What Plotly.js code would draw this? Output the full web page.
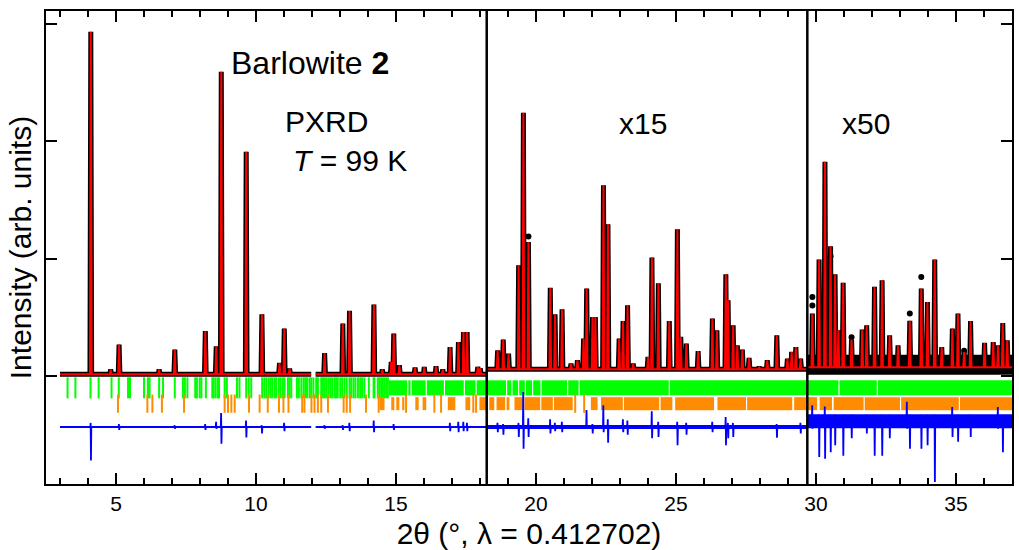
<!DOCTYPE html>
<html>
<head>
<meta charset="utf-8">
<script src="https://cdn.plot.ly/plotly-3.0.1.min.js"></script>
<style>html,body{margin:0;padding:0;background:#fff;}#chart{width:1019px;height:550px;}</style>
</head>
<body>
<div id="chart"></div>
<script>
// ---- data ----
// data segments (region 1 has a small break in the pattern near 12°)
const segStart = [3.0, 12.13, 18.24, 29.69];
const segEnd   = [11.97, 18.24, 29.69, 37.0];
const segCalcBase = [0.015, 0.015, 0.058, 0.075];
const segDiffBase = [-0.435, -0.435, -0.435, -0.387];
const scaleLabels = ["x15", "x50"];
const scaleBreaks = [18.24, 29.69];

// peak positions (2θ) and displayed calculated heights
const peakX = [4.10,4.81,5.11,6.54,7.10,8.19,8.58,8.76,9.65,10.21,10.84,11.01,11.20,12.45,13.10,13.34,14.21,14.51,14.83,14.92,15.12,15.68,16.01,16.43,16.67,16.93,17.23,17.41,17.54,17.92,18.01,
  18.63,18.83,19.02,19.38,19.55,19.73,20.51,20.68,20.93,21.25,21.48,21.70,21.81,22.02,22.12,22.41,22.57,22.97,23.11,23.27,23.47,24.00,24.14,24.37,24.76,25.05,25.17,25.37,25.79,26.30,26.46,26.78,26.86,27.04,27.19,27.37,27.61,27.97,28.26,28.60,28.98,29.13,29.28,29.45,
  29.87,30.11,30.32,30.52,30.68,30.80,30.97,31.27,31.65,31.81,32.09,32.36,32.63,32.93,33.35,33.76,33.98,34.24,34.49,34.87,35.07,35.29,35.52,36.02,36.33,36.50,36.67,36.83];
const calcY = [2.935,0.057,0.268,0.057,0.225,0.384,0.253,2.594,1.911,0.526,0.111,0.404,0.063,0.196,0.447,0.555,0.609,0.055,0.119,0.362,0.091,0.072,0.077,0.083,0.057,0.247,0.29,0.375,0.375,0.077,0.066,
  0.219,0.31,0.19,0.945,2.244,1.143,0.751,0.526,0.569,0.106,0.134,0.319,0.746,0.503,0.503,1.627,1.294,0.319,0.469,0.603,0.106,0.162,1.01,0.79,0.469,1.252,0.333,0.276,0.213,0.49,0.39,0.868,0.646,0.433,0.262,0.225,0.154,0.077,0.134,0.347,0.148,0.205,0.247,0.148,
  0.532,0.993,1.826,1.107,0.868,0.39,0.794,0.31,0.396,0.433,0.76,0.817,0.347,0.262,0.47,0.746,0.631,0.993,0.247,0.404,0.532,0.205,0.469,0.282,0.29,0.262,0.452,0.305];
// observed points that stand away from the fit
const obsDotX = [19.73, 29.87, 29.87, 33.35, 33.76, 35.29, 31.27, 30.52];
const obsDotY = [1.19, 0.674, 0.60, 0.532, 0.845, 0.215, 0.33, 1.02];

// difference curve spikes: position, top, bottom
const diffX  = [4.10,5.11,7.10,8.19,8.58,8.76,9.65,10.21,11.01,12.45,13.10,13.34,14.21,14.92,16.93,17.23,17.41,17.54,
  18.63,18.83,19.38,19.55,19.73,20.51,20.68,20.93,21.81,22.02,22.41,22.57,23.11,23.27,24.14,24.37,25.05,25.37,26.30,26.78,26.86,27.04,28.60,29.45,
  29.87,30.11,30.32,30.52,30.68,30.97,31.27,31.81,32.09,32.36,32.63,33.25,33.35,33.76,33.98,34.24,34.87,35.07,35.52,36.50,36.67];
const diffHi = [-0.40,-0.41,-0.42,-0.41,-0.39,-0.315,-0.38,-0.42,-0.40,-0.42,-0.42,-0.40,-0.38,-0.41,-0.40,-0.39,-0.39,-0.40,
  -0.40,-0.41,-0.40,-0.136,-0.36,-0.37,-0.40,-0.39,-0.29,-0.41,-0.25,-0.37,-0.37,-0.38,-0.30,-0.39,-0.39,-0.40,-0.39,-0.35,-0.40,-0.40,-0.41,-0.40,
  -0.25,-0.33,-0.26,-0.33,-0.33,-0.33,-0.33,-0.33,-0.33,-0.33,-0.33,-0.22,-0.33,-0.33,-0.33,-0.33,-0.265,-0.33,-0.33,-0.265,-0.33];
const diffLo = [-0.72,-0.46,-0.45,-0.46,-0.45,-0.577,-0.525,-0.49,-0.47,-0.45,-0.46,-0.47,-0.48,-0.46,-0.47,-0.48,-0.47,-0.47,
  -0.48,-0.50,-0.52,-0.62,-0.52,-0.49,-0.47,-0.48,-0.45,-0.49,-0.48,-0.57,-0.48,-0.50,-0.53,-0.52,-0.59,-0.50,-0.48,-0.59,-0.53,-0.52,-0.526,-0.49,
  -0.45,-0.69,-0.705,-0.65,-0.59,-0.68,-0.53,-0.49,-0.68,-0.68,-0.53,-0.45,-0.62,-0.62,-0.59,-0.905,-0.52,-0.56,-0.52,-0.45,-0.65];

// reflection markers: phase 1 (green) and phase 2 (orange)
const greenTicks = [3.27,3.55,4.09,4.38,4.84,5.10,5.43,5.50,6.00,6.14,6.20,6.54,6.68,7.10,7.39,7.46,7.55,7.83,7.89,7.99,8.05,8.21,8.44,8.49,8.56,8.64,8.68,8.88,8.96,9.32,9.41,9.65,9.74,9.83,10.22,10.30,10.37,10.45,10.52,10.58,10.66,10.72,10.81,10.88,10.96,11.02,11.14,11.20,11.26,11.46,11.53,11.62,11.70,11.76,11.82,11.91,11.97,12.05,12.15,12.21,12.33,12.39,12.45,12.51,12.58,12.65,12.72,12.80,12.86,12.92,13.01,13.08,13.16,13.24,13.34,13.40,13.48,13.55,13.64,13.72,13.79,13.87,14.03,14.20,14.23,14.35,14.41,14.47,14.53,14.59,14.65,14.71];
const greenBandStart = [14.75,15.44,15.56,16.10,16.75,17.46,17.88,18.97,19.16,19.40,19.64,19.90,20.20,21.15,21.56,24.78,30.84,32.21];
const greenBandEnd   = [15.40,15.52,16.06,16.71,17.42,17.84,18.93,19.12,19.36,19.60,19.86,20.16,21.11,21.52,24.74,30.80,32.17,37.0];
const orangeTicks = [5.07,6.12,6.30,6.64,7.43,8.88,9.00,9.12,9.24,9.75,10.13,10.42,10.82,10.98,11.16,11.65,11.73,11.98,12.09,12.21,12.33,12.57,13.13,13.24,13.36,13.93,14.38,15.36,16.37,16.61,17.76,17.86,21.40,21.72];
const orangeBandStart = [14.41,14.83,15.01,15.22,15.69,15.95,16.85,17.48,17.98,18.33,18.59,18.95,19.23,19.59,20.19,20.64,21.96,22.32,23.14,24.45,24.97,26.48,27.54,29.22,30.13,30.63,31.74,33.04,35.14];
const orangeBandEnd   = [14.59,14.94,15.12,15.30,15.81,16.08,17.12,17.65,18.22,18.51,18.90,19.05,19.55,20.15,20.60,21.31,22.20,23.10,24.40,24.87,26.36,27.50,29.15,30.04,30.57,31.70,33.00,35.10,37.0];

const xTicks = [5,10,15,20,25,30,35];
const yTicks = [0,1,2,3];

// ---- build traces ----
const PEAK_HW = 0.03, DIFF_HW = 0.018;
const GREEN_Y = -0.101, ORANGE_Y = -0.236;

function profile() {
  const X = [], Y = [];
  for (let s = 0; s < segStart.length; s++) {
    const a = segStart[s], b = segEnd[s], base = segCalcBase[s];
    X.push(a); Y.push(base);
    let last = a;
    const idx = peakX.map((v, i) => i).filter(i => peakX[i] > a && peakX[i] < b);
    idx.forEach((i, k) => {
      const x = peakX[i];
      if (x - PEAK_HW > last) { X.push(x - PEAK_HW); Y.push(base); }
      X.push(x); Y.push(calcY[i]); last = x;
      const nxt = k + 1 < idx.length ? peakX[idx[k + 1]] : b;
      if (nxt - PEAK_HW > x + PEAK_HW) { X.push(x + PEAK_HW); Y.push(base); last = x + PEAK_HW; }
    });
    X.push(b); Y.push(base);
    X.push(null); Y.push(null);
  }
  return [X, Y];
}
function diffCurve() {
  const X = [], Y = [];
  for (let s = 0; s < segStart.length; s++) {
    const a = segStart[s], b = segEnd[s], base = segDiffBase[s];
    X.push(a); Y.push(base);
    diffX.forEach((x, i) => {
      if (x <= a || x >= b) return;
      X.push(x - DIFF_HW, x - DIFF_HW / 3, x + DIFF_HW / 3, x + DIFF_HW);
      Y.push(base, diffHi[i], diffLo[i], base);
    });
    X.push(b); Y.push(base);
    X.push(null); Y.push(null);
  }
  return [X, Y];
}
function bands(starts, ends, y) {
  const X = [], Y = [];
  starts.forEach((s, i) => { X.push(s, ends[i], null); Y.push(y, y, null); });
  return [X, Y];
}

const [px, py] = profile();
const [dx, dy] = diffCurve();
const [gbx, gby] = bands(greenBandStart, greenBandEnd, GREEN_Y);
const [obx, oby] = bands(orangeBandStart, orangeBandEnd, ORANGE_Y);
const lastSeg = segStart.length - 1;

const GREEN = "#00ff00", ORANGE = "#ff8c00", BLUE = "#0000ff", RED = "#ff0000";

const traces = [
  {x: greenTicks, y: greenTicks.map(() => GREEN_Y), mode: "markers", type: "scatter",
   marker: {symbol: "line-ns-open", size: 15, color: GREEN, line: {color: GREEN, width: 2}}, hoverinfo: "skip"},
  {x: gbx, y: gby, mode: "lines", type: "scatter", line: {color: GREEN, width: 15}, hoverinfo: "skip"},
  {x: orangeTicks, y: orangeTicks.map(() => ORANGE_Y), mode: "markers", type: "scatter",
   marker: {symbol: "line-ns-open", size: 13, color: ORANGE, line: {color: ORANGE, width: 2}}, hoverinfo: "skip"},
  {x: obx, y: oby, mode: "lines", type: "scatter", line: {color: ORANGE, width: 13}, hoverinfo: "skip"},
  // difference
  {x: [segStart[2], segEnd[2]], y: [segDiffBase[2], segDiffBase[2]], mode: "lines", type: "scatter", line: {color: BLUE, width: 4}, hoverinfo: "skip"},
  {x: [segStart[lastSeg], segEnd[lastSeg]], y: [segDiffBase[lastSeg], segDiffBase[lastSeg]], mode: "lines", type: "scatter", line: {color: BLUE, width: 14}, hoverinfo: "skip"},
  {x: dx, y: dy, mode: "lines", type: "scatter", line: {color: BLUE, width: 1.8}, hoverinfo: "skip"},
  // observed
  {x: [segStart[lastSeg], segEnd[lastSeg]], y: [segCalcBase[lastSeg] + 0.02, segCalcBase[lastSeg] + 0.02], mode: "lines", type: "scatter", line: {color: "#000", width: 20}, hoverinfo: "skip"},
  {x: px, y: py, mode: "lines", type: "scatter", line: {color: "#000", width: 5}, hoverinfo: "skip"},
  {x: obsDotX, y: obsDotY, mode: "markers", type: "scatter", marker: {color: "#000", size: 6}, hoverinfo: "skip"},
  // calculated
  {x: px, y: py, mode: "lines", type: "scatter", line: {color: RED, width: 2}, hoverinfo: "skip"}
];

const FONT = "Liberation Sans, Arial, Helvetica, sans-serif";
const annotations = [
  {x: 9.05, y: 2.668, text: "Barlowite <b>2</b>", xanchor: "left", yanchor: "middle", showarrow: false, font: {family: FONT, size: 32, color: "#000"}},
  {x: 10.95, y: 2.167, text: "PXRD", xanchor: "left", yanchor: "middle", showarrow: false, font: {family: FONT, size: 30, color: "#000"}},
  {x: 11.25, y: 1.84, text: "<i>T</i> = 99 K", xanchor: "left", yanchor: "middle", showarrow: false, font: {family: FONT, size: 30, color: "#000"}},
  {x: 22.90, y: 2.156, text: scaleLabels[0], xanchor: "left", yanchor: "middle", showarrow: false, font: {family: FONT, size: 30, color: "#000"}},
  {x: 30.86, y: 2.156, text: scaleLabels[1], xanchor: "left", yanchor: "middle", showarrow: false, font: {family: FONT, size: 30, color: "#000"}}
];

const shapes = scaleBreaks.map(x => ({type: "line", xref: "x", yref: "paper", x0: x, x1: x, y0: 0, y1: 1, line: {color: "#000", width: 2.5}, layer: "above"}));

const layout = {
  width: 1019, height: 550,
  margin: {l: 46, r: 7, t: 11, b: 66},
  paper_bgcolor: "#fff", plot_bgcolor: "#fff",
  showlegend: false,
  font: {family: FONT, color: "#000"},
  xaxis: {
    range: [2.5, 37.0], tickvals: xTicks, ticktext: xTicks.map(String),
    ticks: "inside", ticklen: 11, tickwidth: 2, tickcolor: "#000",
    showline: true, linewidth: 2, linecolor: "#000", mirror: "ticks",
    showgrid: false, zeroline: false,
    minor: {dtick: 1, tick0: 0, ticks: "inside", ticklen: 6, tickwidth: 2, tickcolor: "#000", showgrid: false},
    tickfont: {family: FONT, size: 21, color: "#000"},
    title: {text: "2θ (°, λ = 0.412702)", font: {family: FONT, size: 30, color: "#000"}, standoff: 12}
  },
  yaxis: {
    range: [-0.921, 3.112], tickvals: yTicks, showticklabels: false,
    ticks: "inside", ticklen: 11, tickwidth: 2, tickcolor: "#000",
    showline: true, linewidth: 2, linecolor: "#000", mirror: "ticks",
    showgrid: false, zeroline: false,
    title: {text: "Intensity (arb. units)", font: {family: FONT, size: 30, color: "#000"}, standoff: 4}
  },
  annotations: annotations,
  shapes: shapes
};

Plotly.newPlot("chart", traces, layout, {displayModeBar: false, staticPlot: true});
</script>
</body>
</html>
